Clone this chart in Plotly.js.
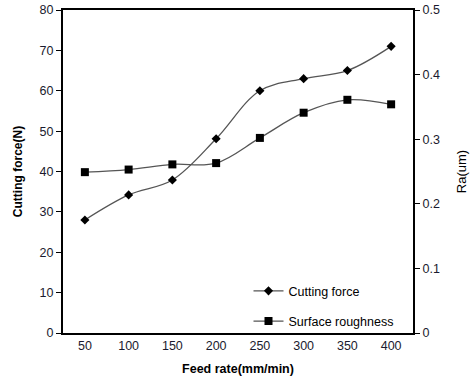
<!DOCTYPE html>
<html><head><meta charset="utf-8">
<script src="https://cdn.plot.ly/plotly-3.0.1.min.js"></script>
<style>html,body{margin:0;padding:0;background:#fff}#c{width:473px;height:389px}</style>
</head><body><div id="c"></div>
<script>
const feedRates = ['50','100','150','200','250','300','350','400'];
const cuttingForce = [28, 34.2, 37.9, 48.1, 60, 63, 65, 71];
const surfaceRoughness = [0.249, 0.253, 0.261, 0.263, 0.302, 0.341, 0.361, 0.354];

const tickFont = {family: 'Liberation Sans, Arial, sans-serif', size: 12.5, color: '#1a1a2e'};
const traces = [
  {x: feedRates, y: cuttingForce, name: 'Cutting force', type: 'scatter', mode: 'lines+markers',
   line: {color: '#555', width: 1.3, shape: 'spline', smoothing: 1},
   marker: {symbol: 'diamond', size: 7, color: '#000'}, legendgroup: 'a'},
  {x: feedRates, y: surfaceRoughness, name: 'Surface roughness', type: 'scatter', mode: 'lines+markers',
   yaxis: 'y2', line: {color: '#555', width: 1.3, shape: 'spline', smoothing: 1},
   marker: {symbol: 'square', size: 8, color: '#000'}, legendgroup: 'b'}
];
const layout = {
  width: 473, height: 389,
  margin: {l: 63, r: 60, t: 10, b: 56},
  paper_bgcolor: '#fff', plot_bgcolor: '#fff',
  showlegend: true,
  legend: {x: 0.53, y: -0.01, xanchor: 'left', yanchor: 'bottom', bgcolor: 'rgba(0,0,0,0)',
    font: {family: 'Liberation Sans, Arial, sans-serif', size: 12.5, color: '#000'},
    traceorder: 'grouped', tracegroupgap: 11},
  xaxis: {type: 'category', range: [-0.5, 7.5], showgrid: false, zeroline: false,
    showline: true, linecolor: '#000', linewidth: 2, mirror: true, ticks: '',
    tickfont: tickFont,
    title: {text: '<b>Feed rate(mm/min)</b>', font: {family: 'Liberation Sans, Arial, sans-serif', size: 12.5, color: '#000'}, standoff: 12}},
  yaxis: {range: [0, 80], dtick: 10, showgrid: false, zeroline: false,
    showline: true, linecolor: '#000', linewidth: 2, ticks: 'outside', ticklen: 5, tickcolor: '#000',
    tickfont: tickFont,
    title: {text: '<b>Cutting force(N)</b>', font: {family: 'Liberation Sans, Arial, sans-serif', size: 12, color: '#000'}, standoff: 14}},
  yaxis2: {range: [0, 0.5], dtick: 0.1, overlaying: 'y', side: 'right', showgrid: false, zeroline: false,
    showline: true, linecolor: '#000', linewidth: 2, ticks: 'outside', ticklen: 5, tickcolor: '#000',
    tickfont: tickFont,
    title: {text: 'Ra(um)', font: {family: 'Liberation Sans, Arial, sans-serif', size: 13, color: '#000'}, standoff: 18}}
};
Plotly.newPlot('c', traces, layout, {displayModeBar: false, staticPlot: true});
</script></body></html>
